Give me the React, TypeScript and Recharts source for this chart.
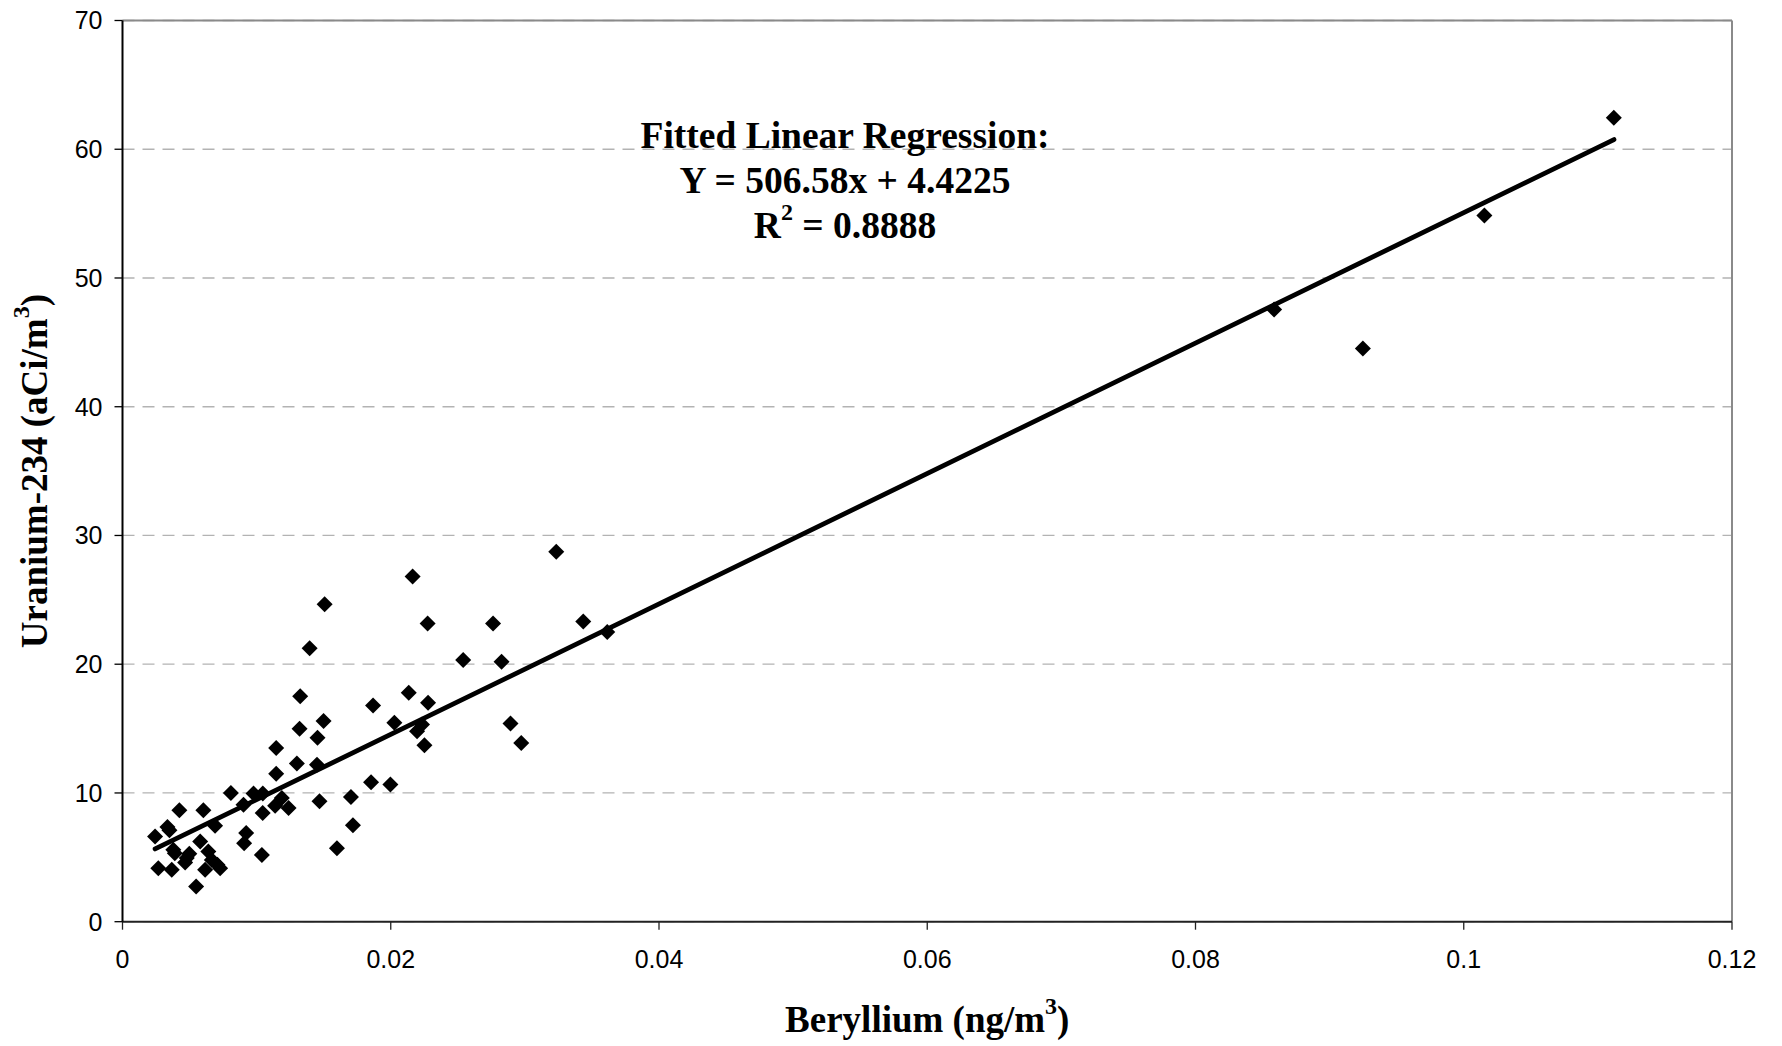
import React from 'react';
import { ScatterChart, Scatter, XAxis, YAxis, CartesianGrid, ReferenceLine } from 'recharts';

const beryllium = [
  0.00243, 0.00267, 0.00335, 0.0035, 0.00367, 0.00379, 0.0039, 0.00424, 0.00467, 0.00479,
  0.00498, 0.00549, 0.00579, 0.00603, 0.00616, 0.0064, 0.00666, 0.0069, 0.00708, 0.00728,
  0.00808, 0.00902, 0.00907, 0.00922, 0.00977, 0.01039, 0.01046, 0.01045, 0.01138, 0.01146,
  0.01146, 0.01188, 0.01238, 0.013, 0.0132, 0.01325, 0.01395, 0.0145, 0.01454, 0.01469,
  0.01499, 0.01507, 0.01599, 0.01703, 0.01718, 0.01853, 0.01868, 0.01997, 0.02027, 0.02134,
  0.02163, 0.02196, 0.02233, 0.02251, 0.02275, 0.02278, 0.0254, 0.02763, 0.02826, 0.02893,
  0.02973, 0.03234, 0.03435, 0.03614, 0.08586, 0.09248, 0.10154, 0.11119,
];

const uranium234 = [
  6.62, 4.16, 7.35, 7.1, 4.03, 5.58, 5.32, 8.65, 4.6, 4.94,
  5.27, 2.73, 6.23, 8.65, 4.03, 5.45, 4.8, 7.45, 4.42, 4.16,
  10.0, 9.09, 6.1, 6.88, 9.95, 5.19, 9.95, 8.44, 9.01, 11.5,
  13.5, 9.61, 8.83, 12.28, 14.98, 17.52, 21.24, 12.2, 14.28, 9.35,
  15.58, 24.66, 5.7, 9.69, 7.5, 10.83, 16.8, 10.65, 15.45, 17.79,
  26.82, 14.8, 15.32, 13.71, 23.16, 17.0, 20.33, 23.16, 20.2, 15.4,
  13.89, 28.74, 23.32, 22.51, 47.55, 44.53, 54.86, 62.44,
];

const xTicks = [0, 0.02, 0.04, 0.06, 0.08, 0.1, 0.12];
const yTicks = [0, 10, 20, 30, 40, 50, 60, 70];

const fitX = [0.00243, 0.1112];
const fitY = [5.65, 60.75];

const annotationLines = ['Fitted Linear Regression:', 'Y = 506.58x + 4.4225', 'R', '2', ' = 0.8888'];

const data = beryllium.map((x, i) => ({ x, y: uranium234[i] }));

const Diamond = (props: any) => {
  const { cx, cy } = props;
  const r = 8;
  return (
    <polygon
      points={`${cx},${cy - r} ${cx + r},${cy} ${cx},${cy + r} ${cx - r},${cy}`}
      fill="#000"
    />
  );
};

const SERIF = '"Liberation Serif", "Times New Roman", serif';
const SANS = '"Liberation Sans", Arial, sans-serif';

const XTitle = (props: any) => {
  const { viewBox } = props;
  const cx = viewBox.x + viewBox.width / 2;
  const y = viewBox.y + 110;
  return (
    <text x={cx} y={y} textAnchor="middle" fontFamily={SERIF} fontWeight="bold" fontSize={37} fill="#000">
      <tspan>Beryllium (ng/m</tspan>
      <tspan fontSize={24} dy={-18}>3</tspan>
      <tspan dy={18}>)</tspan>
    </text>
  );
};

const YTitle = (props: any) => {
  const { viewBox } = props;
  const cy = viewBox.y + viewBox.height / 2;
  const x = 47;
  return (
    <text
      x={x}
      y={cy}
      textAnchor="middle"
      transform={`rotate(-90, ${x}, ${cy})`}
      fontFamily={SERIF}
      fontWeight="bold"
      fontSize={37}
      fill="#000"
    >
      <tspan>Uranium-234 (aCi/m</tspan>
      <tspan fontSize={24} dy={-18}>3</tspan>
      <tspan dy={18}>)</tspan>
    </text>
  );
};

const fmtX = (v: number) => String(v);

export default function App() {
  return (
    <div style={{ position: 'absolute', left: 0, top: 0, width: 1782, height: 1046, background: '#fff' }}>
      <ScatterChart
        width={1782}
        height={1046}
        margin={{ top: 20.5, right: 50, bottom: 64.3, left: 0 }}
      >
        <CartesianGrid vertical={false} stroke="#b3b3b3" strokeDasharray="12 8" strokeWidth={1.3} />
        <XAxis
          type="number"
          dataKey="x"
          domain={[0, 0.12]}
          ticks={xTicks}
          tickFormatter={fmtX}
          allowDataOverflow
          height={60}
          tickSize={8}
          tickMargin={21}
          axisLine={{ stroke: '#222', strokeWidth: 2 }}
          tickLine={{ stroke: '#222', strokeWidth: 1.3 }}
          tick={{ fill: '#000', fontSize: 25, fontFamily: SANS }}
          label={<XTitle />}
        />
        <YAxis
          type="number"
          dataKey="y"
          domain={[0, 70]}
          ticks={yTicks}
          allowDataOverflow
          width={122.5}
          tickSize={8}
          tickMargin={12}
          axisLine={{ stroke: '#000', strokeWidth: 2 }}
          tickLine={{ stroke: '#000', strokeWidth: 1.3 }}
          tick={{ fill: '#000', fontSize: 25, fontFamily: SANS }}
          label={<YTitle />}
        />
        <ReferenceLine y={70} stroke="#8a8a8a" strokeWidth={2} />
        <ReferenceLine x={0.12} stroke="#8a8a8a" strokeWidth={2} />
        <Scatter data={data} fill="#000" shape={<Diamond />} isAnimationActive={false} />
        <ReferenceLine
          segment={[
            { x: fitX[0], y: fitY[0] },
            { x: fitX[1], y: fitY[1] },
          ]}
          stroke="#000"
          strokeWidth={4.8}
          strokeLinecap="round"
        />
      </ScatterChart>
      <svg
        width={1782}
        height={1046}
        style={{ position: 'absolute', left: 0, top: 0, pointerEvents: 'none' }}
      >
        <text x={845} textAnchor="middle" fontFamily={SERIF} fontWeight="bold" fontSize={37.5} fill="#000">
          <tspan x={845} y={148}>{annotationLines[0]}</tspan>
          <tspan x={845} y={193}>{annotationLines[1]}</tspan>
        </text>
        <text x={845} y={238} textAnchor="middle" fontFamily={SERIF} fontWeight="bold" fontSize={37.5} fill="#000">
          <tspan>{annotationLines[2]}</tspan>
          <tspan fontSize={24} dy={-18}>{annotationLines[3]}</tspan>
          <tspan dy={18}>{annotationLines[4]}</tspan>
        </text>
      </svg>
    </div>
  );
}
